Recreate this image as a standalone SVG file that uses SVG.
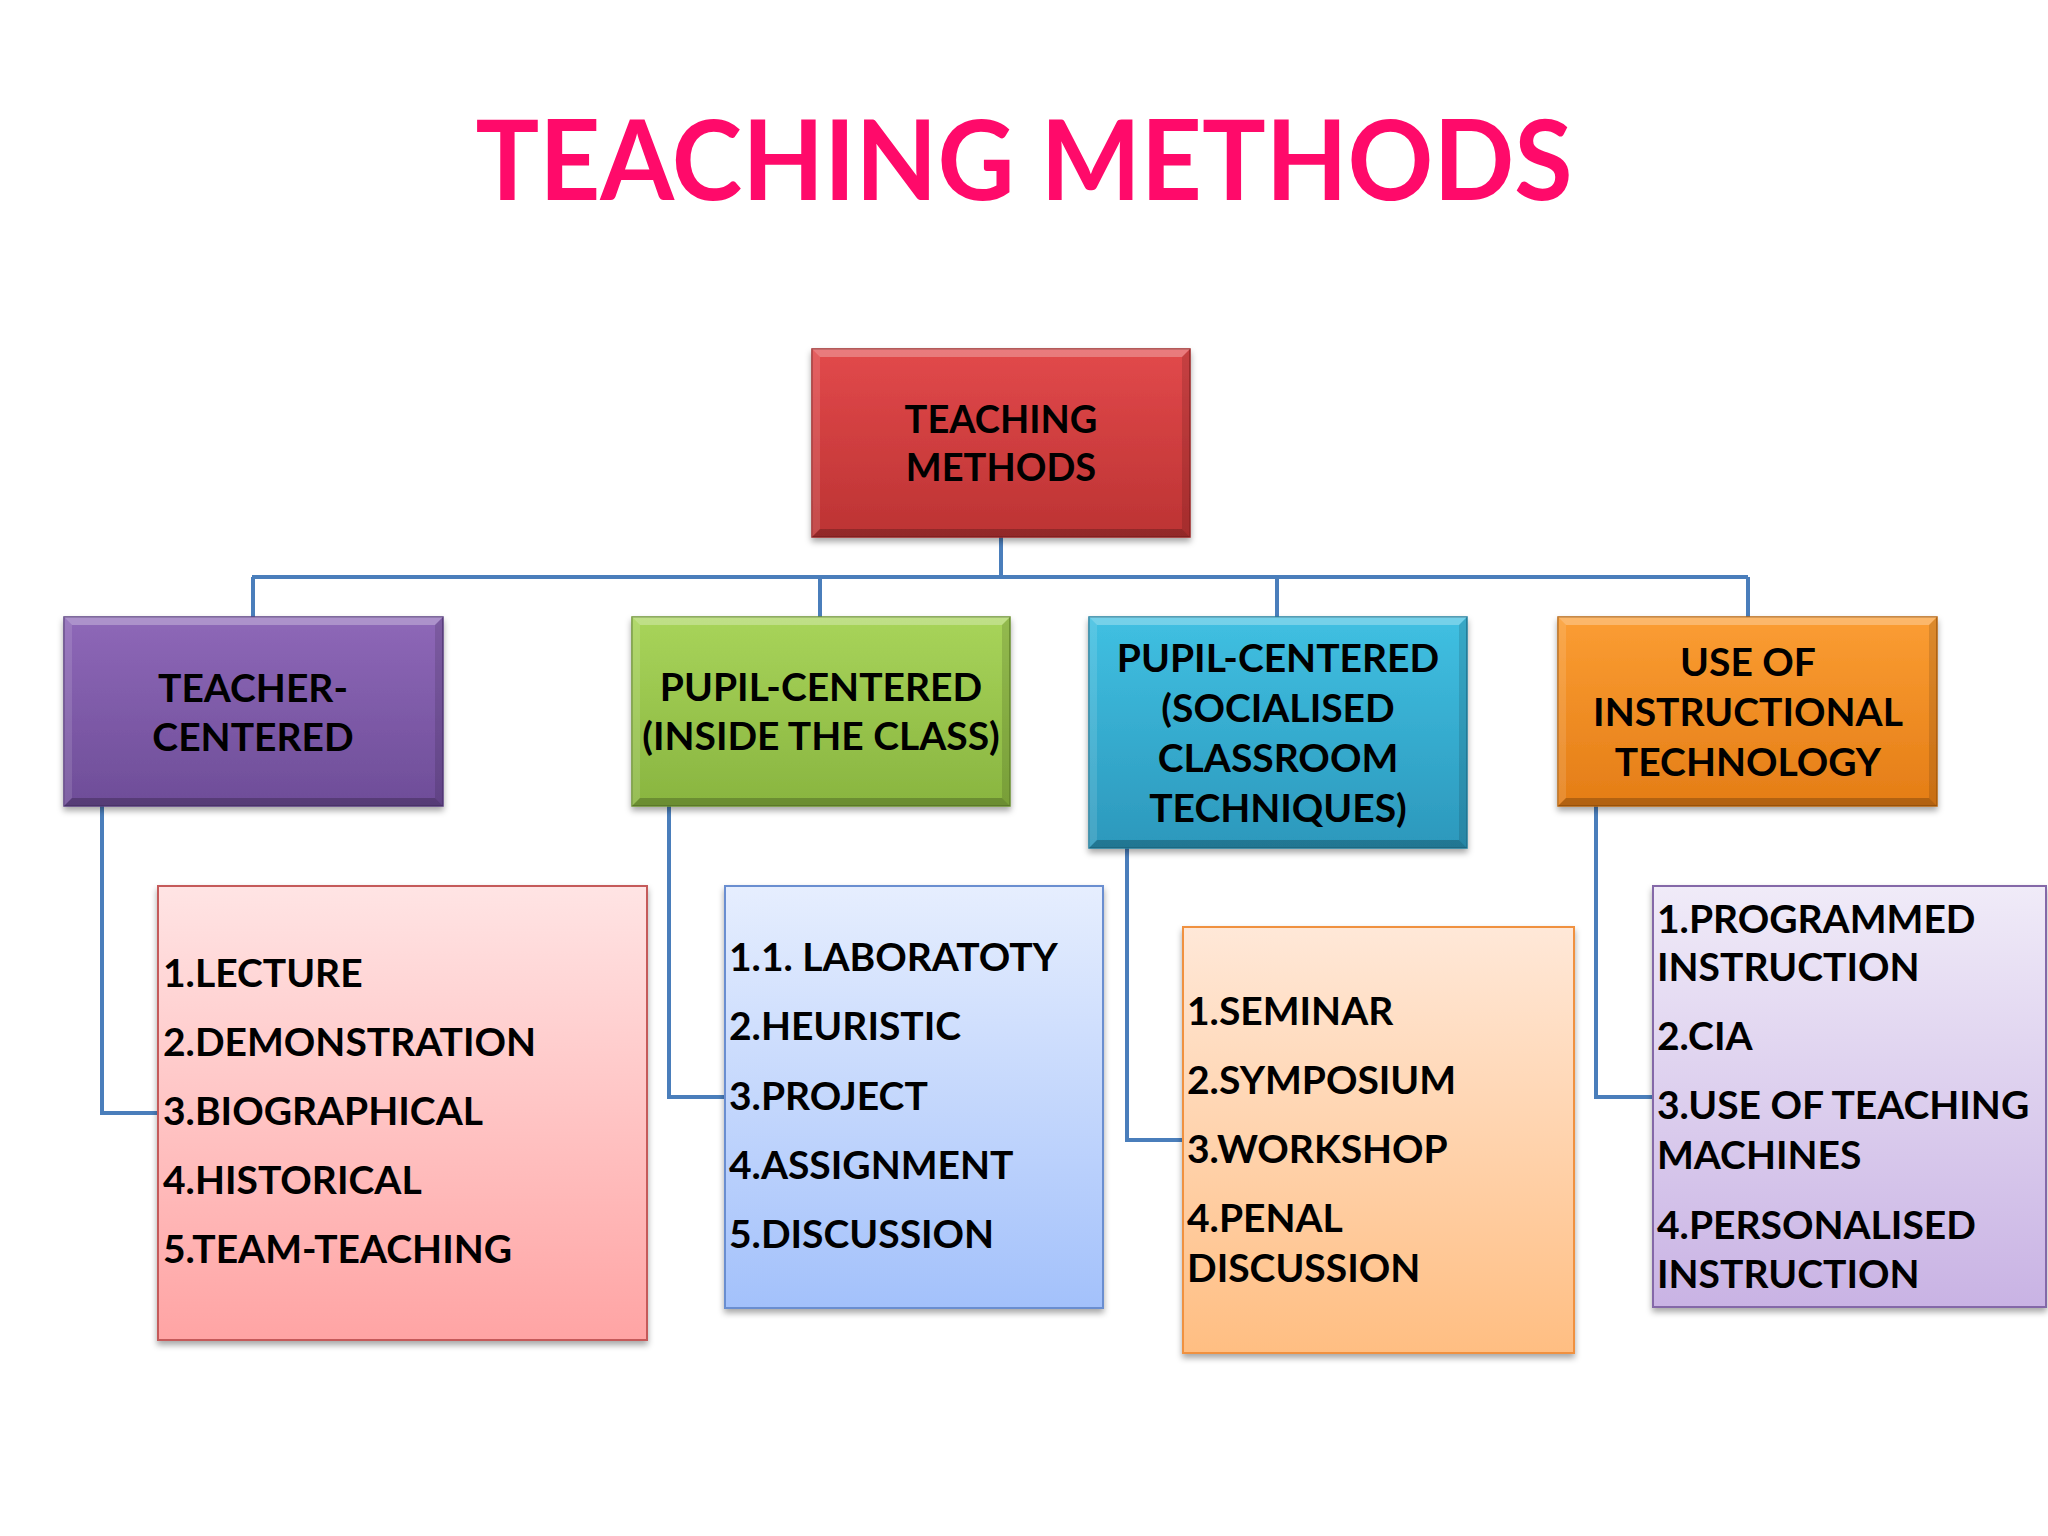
<svg xmlns="http://www.w3.org/2000/svg" width="2048" height="1536" viewBox="0 0 2048 1536">
<style>
.t{font-family:Lato,"Open Sans","Liberation Sans",sans-serif;font-weight:bold;fill:#000;font-size:39px}
.r{font-size:38px}
.c{text-anchor:middle}
.conn{fill:none;stroke:#4A7EBB;stroke-width:4}
.hi{fill:#fff;opacity:.28}
.hs{fill:#fff;opacity:.12}
.sh{fill:#000;opacity:.22}
.ss{fill:#000;opacity:.12}
</style>
<defs>
<filter id="ds" x="-10%" y="-10%" width="120%" height="130%">
<feDropShadow dx="0" dy="4" stdDeviation="3" flood-color="#000" flood-opacity="0.35"/>
</filter>
<linearGradient id="gRed" x1="0" y1="0" x2="0" y2="1"><stop offset="0" stop-color="#E2494B"/><stop offset="1" stop-color="#BC3333"/></linearGradient>
<linearGradient id="gPur" x1="0" y1="0" x2="0" y2="1"><stop offset="0" stop-color="#8E68B8"/><stop offset="1" stop-color="#6E4D98"/></linearGradient>
<linearGradient id="gGrn" x1="0" y1="0" x2="0" y2="1"><stop offset="0" stop-color="#A8D45A"/><stop offset="1" stop-color="#89B540"/></linearGradient>
<linearGradient id="gBlu" x1="0" y1="0" x2="0" y2="1"><stop offset="0" stop-color="#40C0E2"/><stop offset="1" stop-color="#2C98BC"/></linearGradient>
<linearGradient id="gOra" x1="0" y1="0" x2="0" y2="1"><stop offset="0" stop-color="#FB9D33"/><stop offset="1" stop-color="#E47D16"/></linearGradient>
<linearGradient id="lPink" x1="0" y1="0" x2="0" y2="1"><stop offset="0" stop-color="#FFE4E4"/><stop offset="1" stop-color="#FFA4A4"/></linearGradient>
<linearGradient id="lBlue" x1="0" y1="0" x2="0" y2="1"><stop offset="0" stop-color="#E6EEFE"/><stop offset="1" stop-color="#A3C1FB"/></linearGradient>
<linearGradient id="lPeach" x1="0" y1="0" x2="0" y2="1"><stop offset="0" stop-color="#FFE8D8"/><stop offset="1" stop-color="#FFBE82"/></linearGradient>
<linearGradient id="lLav" x1="0" y1="0" x2="0" y2="1"><stop offset="0" stop-color="#F0EBF8"/><stop offset="1" stop-color="#C9B3E4"/></linearGradient>
</defs>
<rect x="0" y="0" width="2048" height="1536" fill="#FFFFFF"/>

<text id="title" x="1024" y="200" class="c" font-family="Lato,'Open Sans','Liberation Sans',sans-serif" font-weight="bold" font-size="112" fill="#FF0A6A" textLength="1097" lengthAdjust="spacingAndGlyphs">TEACHING METHODS</text>

<g id="connectors">
<path class="conn" d="M1001 537V577"/>
<path class="conn" d="M252 577H1748"/>
<path class="conn" d="M253 577V617M820 577V617M1277 577V617M1748 577V617"/>
<path class="conn" d="M102 806V1113H158"/>
<path class="conn" d="M669 806V1097H725"/>
<path class="conn" d="M1127 848V1140H1183"/>
<path class="conn" d="M1596 806V1097H1653"/>
</g>

<g id="root">
<rect x="812" y="349" width="378" height="188" fill="url(#gRed)" stroke="#9E2A2A" stroke-width="1.5" filter="url(#ds)"/>
<polygon class="hi" points="812,349 1190,349 1182,357 820,357"/>
<polygon class="hs" points="812,349 820,357 820,529 812,537"/>
<polygon class="sh" points="812,537 820,529 1182,529 1190,537"/>
<polygon class="ss" points="1190,349 1190,537 1182,529 1182,357"/>
<text class="t r c" x="1001" y="433">TEACHING</text>
<text class="t r c" x="1001" y="481">METHODS</text>
</g>

<g id="teacher-centered">
<rect x="64" y="617" width="379" height="189" fill="url(#gPur)" stroke="#5A3D80" stroke-width="1.5" filter="url(#ds)"/>
<polygon class="hi" points="64,617 443,617 435,625 72,625"/>
<polygon class="hs" points="64,617 72,625 72,798 64,806"/>
<polygon class="sh" points="64,806 72,798 435,798 443,806"/>
<polygon class="ss" points="443,617 443,806 435,798 435,625"/>
<text class="t c" x="253" y="702">TEACHER-</text>
<text class="t c" x="253" y="751">CENTERED</text>
</g>

<g id="pupil-inside">
<rect x="632" y="617" width="378" height="189" fill="url(#gGrn)" stroke="#6E9430" stroke-width="1.5" filter="url(#ds)"/>
<polygon class="hi" points="632,617 1010,617 1002,625 640,625"/>
<polygon class="hs" points="632,617 640,625 640,798 632,806"/>
<polygon class="sh" points="632,806 640,798 1002,798 1010,806"/>
<polygon class="ss" points="1010,617 1010,806 1002,798 1002,625"/>
<text class="t c" x="821" y="701">PUPIL-CENTERED</text>
<text class="t c" x="821" y="750">(INSIDE THE CLASS)</text>
</g>

<g id="pupil-socialised">
<rect x="1089" y="617" width="378" height="231" fill="url(#gBlu)" stroke="#23809F" stroke-width="1.5" filter="url(#ds)"/>
<polygon class="hi" points="1089,617 1467,617 1459,625 1097,625"/>
<polygon class="hs" points="1089,617 1097,625 1097,840 1089,848"/>
<polygon class="sh" points="1089,848 1097,840 1459,840 1467,848"/>
<polygon class="ss" points="1467,617 1467,848 1459,840 1459,625"/>
<text class="t c" x="1278" y="672">PUPIL-CENTERED</text>
<text class="t c" x="1278" y="722">(SOCIALISED</text>
<text class="t c" x="1278" y="772">CLASSROOM</text>
<text class="t c" x="1278" y="822">TECHNIQUES)</text>
</g>

<g id="instructional-technology">
<rect x="1558" y="617" width="379" height="189" fill="url(#gOra)" stroke="#B8650F" stroke-width="1.5" filter="url(#ds)"/>
<polygon class="hi" points="1558,617 1937,617 1929,625 1566,625"/>
<polygon class="hs" points="1558,617 1566,625 1566,798 1558,806"/>
<polygon class="sh" points="1558,806 1566,798 1929,798 1937,806"/>
<polygon class="ss" points="1937,617 1937,806 1929,798 1929,625"/>
<text class="t c" x="1748" y="676">USE OF</text>
<text class="t c" x="1748" y="726">INSTRUCTIONAL</text>
<text class="t c" x="1748" y="776">TECHNOLOGY</text>
</g>

<g id="list-teacher">
<rect x="158" y="886" width="489" height="454" fill="url(#lPink)" stroke="#C55A5A" stroke-width="2" filter="url(#ds)"/>
<text class="t" x="163" y="987">1.LECTURE</text>
<text class="t" x="163" y="1056">2.DEMONSTRATION</text>
<text class="t" x="163" y="1125">3.BIOGRAPHICAL</text>
<text class="t" x="163" y="1194">4.HISTORICAL</text>
<text class="t" x="163" y="1263">5.TEAM-TEACHING</text>
</g>

<g id="list-inside">
<rect x="725" y="886" width="378" height="422" fill="url(#lBlue)" stroke="#6A8ED0" stroke-width="2" filter="url(#ds)"/>
<text class="t" x="729" y="971">1.1. LABORATOTY</text>
<text class="t" x="729" y="1040">2.HEURISTIC</text>
<text class="t" x="729" y="1110">3.PROJECT</text>
<text class="t" x="729" y="1179">4.ASSIGNMENT</text>
<text class="t" x="729" y="1248">5.DISCUSSION</text>
</g>

<g id="list-socialised">
<rect x="1183" y="927" width="391" height="426" fill="url(#lPeach)" stroke="#F0913F" stroke-width="2" filter="url(#ds)"/>
<text class="t" x="1187" y="1025">1.SEMINAR</text>
<text class="t" x="1187" y="1094">2.SYMPOSIUM</text>
<text class="t" x="1187" y="1163">3.WORKSHOP</text>
<text class="t" x="1187" y="1232">4.PENAL</text>
<text class="t" x="1187" y="1282">DISCUSSION</text>
</g>

<g id="list-technology">
<rect x="1653" y="886" width="393" height="421" fill="url(#lLav)" stroke="#8468A8" stroke-width="2" filter="url(#ds)"/>
<text class="t" x="1657" y="933">1.PROGRAMMED</text>
<text class="t" x="1657" y="981">INSTRUCTION</text>
<text class="t" x="1657" y="1050">2.CIA</text>
<text class="t" x="1657" y="1119">3.USE OF TEACHING</text>
<text class="t" x="1657" y="1169">MACHINES</text>
<text class="t" x="1657" y="1239">4.PERSONALISED</text>
<text class="t" x="1657" y="1288">INSTRUCTION</text>
</g>
</svg>
